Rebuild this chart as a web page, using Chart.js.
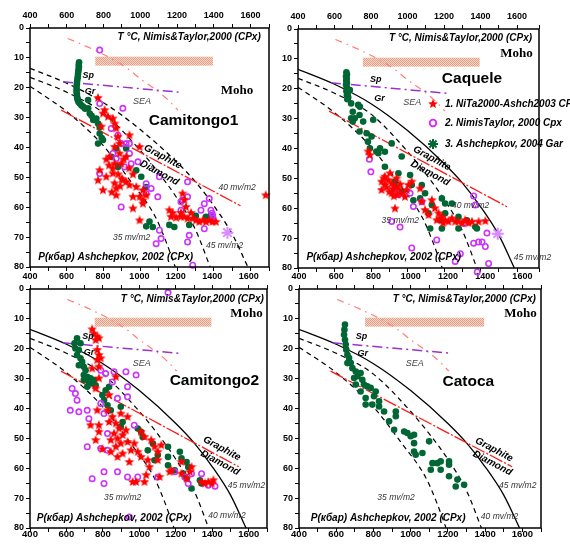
<!DOCTYPE html>
<html>
<head>
<meta charset="utf-8">
<script src="https://cdn.jsdelivr.net/npm/chart.js@4.4.1/dist/chart.umd.min.js"></script>
<style>
  body { margin: 0; background: #fff; }
  #wrap { position: relative; width: 570px; height: 544px; overflow: hidden; }
  canvas { position: absolute; left: 0; top: 0; }
</style>
</head>
<body>
<div id="wrap">
  <canvas id="p4" width="570" height="544"></canvas>
  <canvas id="p3" width="570" height="544"></canvas>
  <canvas id="p1" width="570" height="544"></canvas>
  <canvas id="p2" width="570" height="544"></canvas>
</div>
<script>
// ---- data: [T degC, P kbar] ----
const xTicks = [400, 600, 800, 1000, 1200, 1400, 1600]
const yTicks = [0, 10, 20, 30, 40, 50, 60, 70, 80]

const geo35 = [[400,19.5],[600,28],[800,39.5],[950,51.5],[1080,63],[1140,71.5],[1190,80]]
const geo40 = [[400,16.5],[600,21.5],[800,28.5],[1000,41],[1100,48.5],[1200,57],[1300,67.5],[1380,80]]
const geo45 = [[400,13.5],[600,18.5],[800,25],[1000,34],[1200,45],[1300,51.5],[1400,59.5],[1500,69],[1585,80]]
const graphDiam = [[570,27.5],[1545,59.5]]
const spGr = [[580,18],[1215,21.5]]
const seaLine = [[605,3.5],[720,6.5],[850,10.5],[940,14],[1000,17],[1080,20.5],[1150,24],[1205,27.5]]
const mohoBox = [755, 1395, 9.6, 12.6]

// Camitongo1
const cam1Green = [[667,11.5],[665,12.3],[666,13],[664,13.8],[663,14.6],[661,15.4],[660,16.3],[658,17.1],[656,18],[655,18.8],[653,19.7],[654,20.5],[653,21.3],[655,22.1],[656,23],[658,23.6],[660,24.1],[664,24.8],[671,25.3],[680,25.9],[689,26.4],[716,24.1],[700,27],[716,26.9],[725,28.6],[735,29.4],[744,30.8],[761,30.3],[770,32],[779,33.1],[779,35.3],[770,38.7],[797,37.5],[790,36.8],[842,43.1],[869,40.3],[923,40.3],[878,46.5],[978,47.6],[1005,49.8],[1032,53.2],[1050,64.8],[1032,66.4],[1068,66.6],[1158,65.9],[1185,66.6],[1266,65.9],[1302,62.9],[1357,63.2],[1384,62.7]]
const cam1Red = [[770,23.4],[797,28.6],[806,27.5],[824,29.7],[851,30.3],[860,32],[869,33.6],[788,33],[941,35.9],[878,36.4],[887,38.7],[860,39.8],[996,39.8],[887,42],[923,43.1],[833,43.1],[860,45.4],[896,45.4],[779,47.6],[770,51],[815,49.8],[851,48.7],[905,51],[923,51.5],[941,52.6],[797,54.3],[869,53.7],[869,56],[978,53.2],[960,56.5],[996,56.5],[1014,57.7],[1014,54.3],[1032,56],[960,60.4],[1014,58.8],[996,64.4],[1158,61],[1167,63.2],[1176,61.9],[1230,55.4],[1221,61.9],[1248,59.9],[1221,63.2],[1239,63.2],[1257,63.8],[1276,61.9],[1285,63.8],[1303,64.4],[1321,64.9],[1339,64.4],[1357,64.9],[1375,64.4],[1393,64.9],[1411,64.9],[1682,56],[815,44],[830,46],[850,47],[880,49],[900,50.5],[890,53],[860,52],[845,55],[910,44],[940,47],[960,49],[1240,57.5],[1195,63.5]]
const cam1Violet = [[779,7.4],[779,25.3],[905,26.9],[842,33.6],[878,35.9],[896,38.7],[923,38.7],[941,38.7],[851,42],[941,42],[869,43.7],[987,44.8],[950,45.4],[779,48.7],[914,46.5],[1104,49.8],[1032,52.1],[1059,53.7],[1032,55.4],[1095,56.5],[896,59.9],[1257,51.5],[1257,56.5],[1230,57.6],[1375,57.1],[1348,58.8],[1330,61],[1384,61],[1393,62.7],[1393,64.4],[1390,62],[1395,63.5],[1348,67.2],[1221,61],[1104,67.7],[1086,72.2],[1113,70.5],[1266,69.4],[1257,71.6],[1285,79.4],[1221,58.2]]
const cam1Pink = [[1474,68.5]]

// Caquele
const caqGreen = [[665,14.5],[668,15.2],[663,15.9],[667,16.6],[664,17.3],[668,18],[663,18.7],[667,19.4],[670,20.1],[665,20.8],[672,21.5],[668,22.2],[675,22.9],[670,23.5],[684,20.4],[691,24.9],[700,27.7],[737,28.8],[691,29.9],[700,31],[737,34.3],[783,37.7],[829,41],[730,25.4],[739,26],[711,29.9],[757,31],[776,34.9],[803,36],[812,30.4],[849,39.9],[876,41.1],[794,39.9],[840,41.6],[913,38.3],[968,42.7],[876,46.1],[950,48.3],[931,51.1],[1014,48.9],[931,52.8],[1023,52.2],[1078,52.2],[1096,55],[968,54.5],[1032,57.3],[1069,56.7],[1133,58.9],[1188,56.7],[1206,58.4],[1243,58.4],[1115,61.7],[1206,61.7],[1279,62.9],[1179,64],[1325,64],[1371,66.2],[1124,66.8],[1188,66.8],[1279,66.8],[1380,66.8]]
const caqRed = [[785,41],[794,42.2],[858,51.1],[876,52.2],[895,50.6],[913,51.7],[931,52.8],[858,53.9],[950,53.4],[968,55],[995,53.9],[913,55],[876,49.4],[904,48.3],[986,56.2],[1005,52.2],[1023,51.1],[1069,53.4],[1078,57.8],[931,60.1],[1096,60.6],[1133,57.3],[1115,62.3],[1170,61.7],[1179,63.4],[1206,64],[1243,63.4],[1279,64.5],[1316,64],[1353,64.5],[1389,64.5],[1426,64.3],[1224,64.5],[1261,64.5],[1188,62.9],[885,53],[900,54.5],[920,53.5],[940,50],[870,50],[960,52],[925,56],[945,55.5],[1150,60],[1160,64],[1195,65],[1300,65],[1335,65]]
const caqViolet = [[791,43.6],[799,47.8],[949,55.5],[1014,55],[1078,57.8],[1032,59.4],[913,64.4],[959,66.3],[1160,70.6],[1023,73.3],[1289,75.2],[1261,77.8],[1362,71.7],[1389,71.3],[1408,71.3],[1426,72.8],[1435,68.3],[1444,78.5],[1362,55.9],[1371,58.9],[1307,65.1],[930,55],[1124,84],[1349,83.3],[1382,81.3],[1409,81.9],[1376,90]]
const caqPink = [[1494,68.5]]

// Camitongo2
const cam2Green = [[658,16.5],[644,18.2],[649,19.9],[668,20.4],[658,22.1],[677,23.2],[686,24.4],[668,25.5],[695,26],[705,27.2],[695,28.8],[714,29.4],[732,29.9],[723,31.1],[741,31.6],[695,30.5],[760,32.2],[751,30.5],[677,18.2],[714,32.7],[797,35.5],[815,33.9],[834,32.7],[806,37.2],[825,38.9],[843,40.6],[898,39.4],[908,44.5],[898,46.1],[991,46.7],[1009,47.8],[1018,49.5],[1074,51.7],[1046,54],[1101,55.6],[1083,57.3],[1157,52.8],[1157,56.2],[1157,59],[1194,60.7],[1222,54.5],[1231,56.7],[1259,57.9],[1268,59.6],[1240,61.8],[1259,63.5],[1286,66.8],[1332,64],[1341,65.1]]
const cam2Red = [[741,13.5],[751,14.9],[769,16],[760,17.1],[778,16.5],[769,20.4],[778,22.1],[788,23.2],[769,23.8],[741,26.6],[778,26],[778,29.9],[871,29.4],[760,33.3],[834,35.5],[769,40.6],[732,45.6],[778,45.6],[778,47.8],[760,50.6],[797,53.6],[834,44.5],[852,42.8],[871,45],[889,46.7],[861,48.4],[843,50.6],[880,50.1],[908,48.9],[926,47.3],[898,51.7],[871,52.8],[935,51.2],[908,55.1],[954,54],[972,51.7],[991,54.5],[1009,56.2],[945,57.9],[963,64.6],[982,64.6],[1028,64.6],[1055,59.6],[1037,62.3],[1046,57.3],[1101,57.3],[1120,52.3],[1111,62.9],[1166,61.2],[1175,60.7],[1231,57.9],[1286,59.6],[1277,61.2],[1259,63.5],[1231,61.8],[1341,64.6],[1360,65.1],[1378,64.6],[1397,65.1],[1406,64],[935,42.8],[898,41.7],[825,40.6],[1009,47.8],[1028,49.5],[1065,50.6],[1083,52.8],[1101,54.5],[843,54.5],[880,56.2]]
const cam2Violet = [[1157,1.2],[631,33.3],[649,35],[658,37.2],[621,40.6],[668,41.1],[714,40.6],[723,43.4],[788,27.2],[815,28.3],[861,27.7],[926,27.7],[982,28.8],[852,31.1],[935,32.7],[880,36.6],[935,36.1],[788,38.3],[806,41.7],[825,48.4],[788,53.4],[825,54],[714,52.8],[806,61.2],[741,63.5],[806,65.1],[880,61.2],[935,62.9],[991,62.9],[1101,62.9],[1194,61.2],[1249,62.9],[1286,61.8],[1341,61.8],[1268,65.1],[1378,65.7],[1415,66],[972,45.6],[945,76.3]]

// Catoca
const catGreen = [[647,11.9],[644,13.6],[642,15.3],[647,17],[651,18.6],[654,20.3],[660,22],[669,23.1],[660,24.8],[678,24.8],[687,26.5],[705,27.6],[731,28.1],[696,29.8],[714,29.2],[740,30.4],[705,32],[749,32],[767,32.6],[731,34.3],[785,33.1],[812,34.3],[803,35.9],[758,36.5],[758,38.7],[794,38.7],[830,37.6],[830,39.3],[857,41],[920,41],[920,42.6],[884,44.3],[911,47.1],[965,47.7],[982,48.2],[1000,49.3],[1018,48.8],[1018,51.6],[1018,54.4],[1027,55.5],[1063,54.9],[1099,51],[1108,60.5],[1117,58.3],[1143,58.3],[1161,57.7],[1161,60.5],[1206,58.8],[1206,57.7],[1206,62.7],[1251,63.8],[1242,66.1],[1287,65.5]]

const FONT = '"Liberation Sans", Arial, sans-serif'

function xy(arr) {
  return arr.map(p => ({ x: p[0], y: p[1] }))
}

function starImg(color, size) {
  const c = document.createElement('canvas')
  c.width = size; c.height = size
  const g = c.getContext('2d')
  const R = size / 2, r = R * 0.45
  g.fillStyle = color
  g.beginPath()
  for (let i = 0; i < 10; i++) {
    const a = -Math.PI / 2 + i * Math.PI / 5
    const rr = i % 2 ? r : R
    g.lineTo(R + rr * Math.cos(a), R + rr * Math.sin(a))
  }
  g.closePath()
  g.fill()
  return c
}

const redStar = starImg('#ff0000', 10)

function hatch(ctx) {
  const c = document.createElement('canvas')
  c.width = 2; c.height = 2
  const g = c.getContext('2d')
  g.fillStyle = '#f7d8c8'
  g.fillRect(0, 0, 2, 2)
  g.fillStyle = '#e29e86'
  g.fillRect(0, 0, 1, 1)
  g.fillRect(1, 1, 1, 1)
  return ctx.createPattern(c, 'repeat')
}

function makePanel(cfg) {
  const A = cfg.area
  const datasets = []
  const line = (data, color, dash, w, order) => ({
    data: xy(data), showLine: true, borderColor: color, borderDash: dash,
    borderWidth: w, pointRadius: 0, fill: false, cubicInterpolationMode: 'monotone', order: order
  })
  datasets.push(line(geo35, '#000', [5, 4], 1.2, 5))
  datasets.push(line(geo40, '#000', [5, 4], 1.2, 5))
  datasets.push(line(geo45, '#000', cfg.solid45 ? [] : [5, 4], 1.3, 5))
  datasets.push(line(graphDiam, '#ff1a1a', [14, 2, 2, 2], 1.3, 4))
  datasets.push(line(spGr, '#9933cc', [10, 4, 2, 4], 1.5, 4))
  datasets.push(line(seaLine, '#ff7f7f', [7, 5, 1.5, 5], 1.2, 4))

  if (cfg.violet) datasets.push({ data: xy(cfg.violet), pointStyle: 'circle', pointRadius: 2.7,
    borderWidth: 1.6, borderColor: '#cc33ff', backgroundColor: 'rgba(0,0,0,0)', clip: false, order: 2 })
  if (cfg.red) datasets.push({ data: xy(cfg.red), pointStyle: redStar, pointRadius: 5, clip: false, order: 1 })
  datasets.push({ data: xy(cfg.green), pointStyle: 'circle', pointRadius: 3.3,
    borderWidth: 0, backgroundColor: '#006633', clip: false, order: 3 })
  if (cfg.pink) datasets.push({ data: xy(cfg.pink), pointStyle: 'star', pointRadius: 6,
    borderWidth: 2, borderColor: '#d98cff', clip: false, order: 0 })

  const tickFont = { family: FONT, size: 9, weight: 'bold' }
  const grid = { drawOnChartArea: false, tickLength: 4, color: '#000', lineWidth: 1 }
  const xLabel = v => (xTicks.includes(Math.round(v)) ? Math.round(v) : '')
  const bottomH = cfg.bottomLabels ? 16 : 6

  const decor = {
    id: 'decor',
    beforeDatasetsDraw(chart) {
      const { ctx, scales: { x, y } } = chart
      const x0 = x.getPixelForValue(mohoBox[0]), x1 = x.getPixelForValue(mohoBox[1])
      const y0 = y.getPixelForValue(mohoBox[2]), y1 = y.getPixelForValue(mohoBox[3])
      ctx.save()
      ctx.fillStyle = hatch(ctx)
      ctx.fillRect(x0, y0, x1 - x0, y1 - y0)
      ctx.restore()
    },
    afterDraw(chart) {
      const { ctx, chartArea: ca, scales: { x, y } } = chart
      ctx.save()
      ctx.strokeStyle = '#000'
      ctx.lineWidth = 1.5
      ctx.strokeRect(ca.left, ca.top, ca.right - ca.left, ca.bottom - ca.top)

      const gx0 = x.getPixelForValue(graphDiam[0][0]), gy0 = y.getPixelForValue(graphDiam[0][1])
      const gx1 = x.getPixelForValue(graphDiam[1][0]), gy1 = y.getPixelForValue(graphDiam[1][1])
      const ang = Math.atan2(gy1 - gy0, gx1 - gx0)
      const P = cfg.pos
      const texts = [
        ['T °C, Nimis&Taylor,2000 (CPx)', P.hdr, 'italic bold 10px ' + FONT, 'right', 0, '#000'],
        ['P(кбар) Ashchepkov, 2002 (CPx)', P.foot, 'italic bold 10px ' + FONT, 'left', 0, '#000'],
        ['Moho', P.moho, 'bold 13px "Liberation Serif", serif', 'left', 0, '#000'],
        [cfg.title, P.title, 'bold 15.5px ' + FONT, 'left', 0, '#000'],
        ['Sp', P.sp, 'italic bold 9px ' + FONT, 'left', 0, '#000'],
        ['Gr', P.gr, 'italic bold 9px ' + FONT, 'left', 0, '#000'],
        ['SEA', P.sea, 'italic 9px ' + FONT, 'left', 0, '#444'],
        ['Graphite', P.graphite, 'italic bold 10px ' + FONT, 'center', ang, '#000'],
        ['Diamond', P.diamond, 'italic bold 10px ' + FONT, 'center', ang, '#000'],
        ['35 mv/m2', P.mv35, 'italic 8.5px ' + FONT, 'left', 0, '#333'],
        ['40 mv/m2', P.mv40, 'italic 8.5px ' + FONT, 'left', 0, '#333'],
        ['45 mv/m2', P.mv45, 'italic 8.5px ' + FONT, 'left', 0, '#333']
      ]
      ctx.textBaseline = 'middle'
      texts.forEach(t => {
        ctx.save()
        ctx.translate(x.getPixelForValue(t[1][0]), y.getPixelForValue(t[1][1]))
        ctx.rotate(t[4])
        ctx.font = t[2]
        ctx.textAlign = t[3]
        ctx.fillStyle = t[5]
        ctx.fillText(t[0], 0, 0)
        ctx.restore()
      })

      if (cfg.legend) {
        const lx = ca.left + 135, tx = ca.left + 147
        const rows = [ca.top + 75, ca.top + 94, ca.top + 115]
        ctx.drawImage(redStar, lx - 5, rows[0] - 5)
        ctx.beginPath()
        ctx.arc(lx, rows[1], 3.3, 0, Math.PI * 2)
        ctx.strokeStyle = '#dd22ff'
        ctx.lineWidth = 1.8
        ctx.stroke()
        ctx.strokeStyle = '#006633'
        ctx.lineWidth = 2
        ctx.beginPath()
        for (let i = 0; i < 4; i++) {
          const a = i * Math.PI / 4
          ctx.moveTo(lx - 5 * Math.cos(a), rows[2] - 5 * Math.sin(a))
          ctx.lineTo(lx + 5 * Math.cos(a), rows[2] + 5 * Math.sin(a))
        }
        ctx.stroke()
        ctx.font = 'italic bold 10px ' + FONT
        ctx.fillStyle = '#000'
        ctx.textAlign = 'left'
        ctx.fillText('1. NiTa2000-Ashch2003 CPx', tx, rows[0])
        ctx.fillText('2. NimisTaylor, 2000 Cpx', tx, rows[1])
        ctx.fillText('3. Ashchepkov, 2004 Gar', tx, rows[2])
      }
      ctx.restore()
    }
  }

  return new Chart(document.getElementById(cfg.id), {
    type: 'scatter',
    data: { datasets: datasets },
    options: {
      responsive: false,
      animation: false,
      devicePixelRatio: 1,
      layout: { padding: { left: A.l - 28, top: A.t - 20, right: 570 - A.r, bottom: 544 - A.b - bottomH } },
      plugins: { legend: { display: false }, tooltip: { enabled: false } },
      scales: {
        x: {
          type: 'linear', position: 'top', min: 400, max: cfg.xMax,
          ticks: { stepSize: 100, autoSkip: false, maxRotation: 0, padding: 3, color: '#000', font: tickFont, callback: xLabel },
          grid: grid, border: { display: false },
          afterFit: s => { s.height = 20 }
        },
        xb: {
          type: 'linear', position: 'bottom', min: 400, max: cfg.xMax,
          ticks: { display: cfg.bottomLabels, stepSize: 100, autoSkip: false, maxRotation: 0, padding: -3, color: '#000',
            font: { family: FONT, size: 9.5, weight: 'bold' }, callback: xLabel },
          grid: grid, border: { display: false },
          afterFit: s => { s.height = bottomH }
        },
        y: {
          type: 'linear', reverse: true, min: 0, max: 80,
          ticks: { stepSize: 5, autoSkip: false, padding: 2, color: '#000', font: tickFont,
            callback: v => (yTicks.includes(v) ? v : '') },
          grid: grid, border: { display: false },
          afterFit: s => { s.width = 28 }
        }
      }
    },
    plugins: [decor]
  })
}

makePanel({
  id: 'p4', title: 'Catoca', area: { l: 299, t: 289, r: 541, b: 528 }, xMax: 1700,
  bottomLabels: true, solid45: true, green: catGreen,
  pos: { hdr: [1672, 3.3], foot: [463, 76.7], moho: [1502, 8.4], title: [1171, 30.9], sp: [705, 15.8], gr: [714, 21.7],
    sea: [973, 25], graphite: [1448, 53.8], diamond: [1439, 58.3], mv35: [821, 70], mv40: [1377, 76.1], mv45: [1475, 65.8] }
})
makePanel({
  id: 'p3', title: 'Camitongo2', area: { l: 30, t: 289, r: 267, b: 528 }, xMax: 1700,
  bottomLabels: true, solid45: true, green: cam2Green, red: cam2Red, violet: cam2Violet,
  pos: { hdr: [1683, 3.5], foot: [437, 76.9], moho: [1498, 8.2], title: [1166, 30.8], sp: [686, 16], gr: [695, 21.3],
    sea: [963, 24.9], graphite: [1452, 53.4], diamond: [1443, 58.2], mv35: [806, 70], mv40: [1378, 76], mv45: [1485, 65.7] }
})
makePanel({
  id: 'p1', title: 'Camitongo1', area: { l: 30, t: 28, r: 269, b: 267 }, xMax: 1700,
  bottomLabels: false, solid45: false, green: cam1Green, red: cam1Red, violet: cam1Violet, pink: cam1Pink,
  pos: { hdr: [1655, 3.1], foot: [445, 76.9], moho: [1438, 21], title: [1046, 31], sp: [685, 15.8], gr: [698, 21.3],
    sea: [960, 24.7], graphite: [1122, 43.1], diamond: [1104, 48.5], mv35: [851, 70.2], mv40: [1425, 53.5], mv45: [1357, 72.7] }
})
makePanel({
  id: 'p2', title: 'Caquele', area: { l: 298, t: 29, r: 539, b: 268 }, xMax: 1720,
  bottomLabels: false, solid45: true, legend: true, green: caqGreen, red: caqRed, violet: caqViolet, pink: caqPink,
  pos: { hdr: [1682, 3.0], foot: [446, 76.5], moho: [1508, 8.4], title: [1188, 16.8], sp: [794, 16.8], gr: [818, 23.4],
    sea: [977, 24.6], graphite: [1133, 43.3], diamond: [1124, 48.3], mv35: [858, 64], mv40: [1243, 59], mv45: [1582, 76.5] }
})
</script>
</body>
</html>
